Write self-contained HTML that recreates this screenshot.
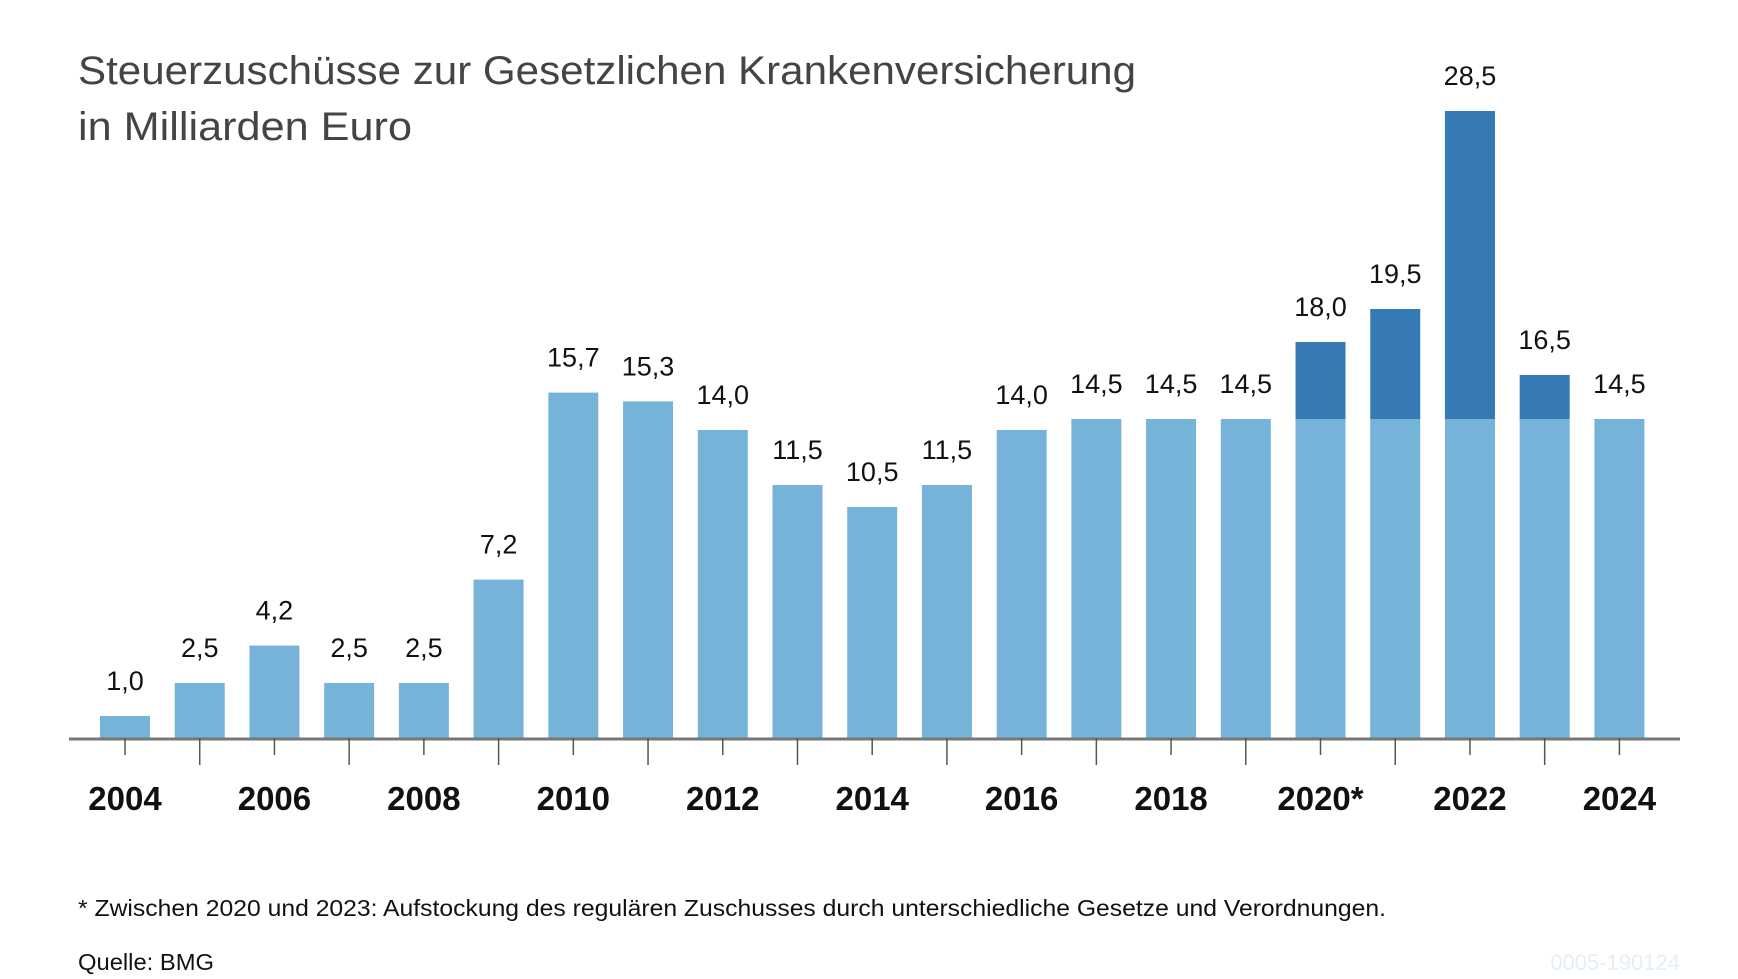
<!DOCTYPE html>
<html><head><meta charset="utf-8"><style>
html,body{margin:0;padding:0;background:#fff;}
svg{display:block;font-family:"Liberation Sans",sans-serif;}
</style></head><body>
<svg id="chart" width="1738" height="979" viewBox="0 0 1738 979">
<text x="78" y="84" font-size="40" fill="#444" textLength="1058" lengthAdjust="spacingAndGlyphs">Steuerzuschüsse zur Gesetzlichen Krankenversicherung</text>
<text x="78" y="140" font-size="40" fill="#444" textLength="334" lengthAdjust="spacingAndGlyphs">in Milliarden Euro</text>
<g id="bars"></g>
<line x1="69" y1="739" x2="1680" y2="739" stroke="#777" stroke-width="3"/>
<g id="ticks"></g>
<text x="78" y="916" font-size="23" fill="#111" textLength="1308" lengthAdjust="spacingAndGlyphs">* Zwischen 2020 und 2023: Aufstockung des regulären Zuschusses durch unterschiedliche Gesetze und Verordnungen.</text>
<text x="78" y="970" font-size="23" fill="#111" textLength="136" lengthAdjust="spacingAndGlyphs">Quelle: BMG</text>
<text x="1680" y="970" font-size="22" fill="#e4eef6" text-anchor="end">0005-190124</text>
</svg>
<script>
const years = [2004,2005,2006,2007,2008,2009,2010,2011,2012,2013,2014,2015,2016,2017,2018,2019,2020,2021,2022,2023,2024];
const yearLabels = ["2004","","2006","","2008","","2010","","2012","","2014","","2016","","2018","","2020*","","2022","","2024"];
const baseValues = [1.0,2.5,4.2,2.5,2.5,7.2,15.7,15.3,14.0,11.5,10.5,11.5,14.0,14.5,14.5,14.5,14.5,14.5,14.5,14.5,14.5];
const totalValues = [1.0,2.5,4.2,2.5,2.5,7.2,15.7,15.3,14.0,11.5,10.5,11.5,14.0,14.5,14.5,14.5,18.0,19.5,28.5,16.5,14.5];
const valueLabels = ["1,0","2,5","4,2","2,5","2,5","7,2","15,7","15,3","14,0","11,5","10,5","11,5","14,0","14,5","14,5","14,5","18,0","19,5","28,5","16,5","14,5"];

const NS = "http://www.w3.org/2000/svg";
const baseY = 738, perUnit = 22.0, x0 = 125, step = 74.72, bw = 50;
const xPos = i => x0 + i * step;
const yPos = v => baseY - v * perUnit;
const bars = document.getElementById('bars');
const ticks = document.getElementById('ticks');
function mk(tag, attrs, parent){
  const e = document.createElementNS(NS, tag);
  for (const k in attrs) e.setAttribute(k, attrs[k]);
  parent.appendChild(e);
  return e;
}
years.forEach((yr, i) => {
  const cx = xPos(i);
  const b = mk('rect', {x: cx - bw/2, y: yPos(baseValues[i]), width: bw, height: baseY - yPos(baseValues[i]), fill: '#76b3d8'}, bars);
  
  
  if (totalValues[i] > baseValues[i]) {
    const t = mk('rect', {x: cx - bw/2, y: yPos(totalValues[i]), width: bw, height: yPos(baseValues[i]) - yPos(totalValues[i]), fill: '#357ab4'}, bars);
    
    
  }
  const l = mk('text', {x: cx, y: yPos(totalValues[i]) - 26, 'font-size': 27, 'text-anchor': 'middle', fill: '#111'}, bars);
  l.textContent = valueLabels[i];
  
  
  const tk = mk('line', {x1: cx, x2: cx, y1: baseY, y2: (i % 2 === 0) ? 755 : 765, stroke: '#555', 'stroke-width': 1.5}, ticks);
  
  
  if (yearLabels[i]) {
    const yl = mk('text', {x: cx, y: 810, 'font-size': 33, 'font-weight': 'bold', 'text-anchor': 'middle', fill: '#111'}, ticks);
    yl.textContent = yearLabels[i];
    
    
  }
});
</script>
</body></html>
